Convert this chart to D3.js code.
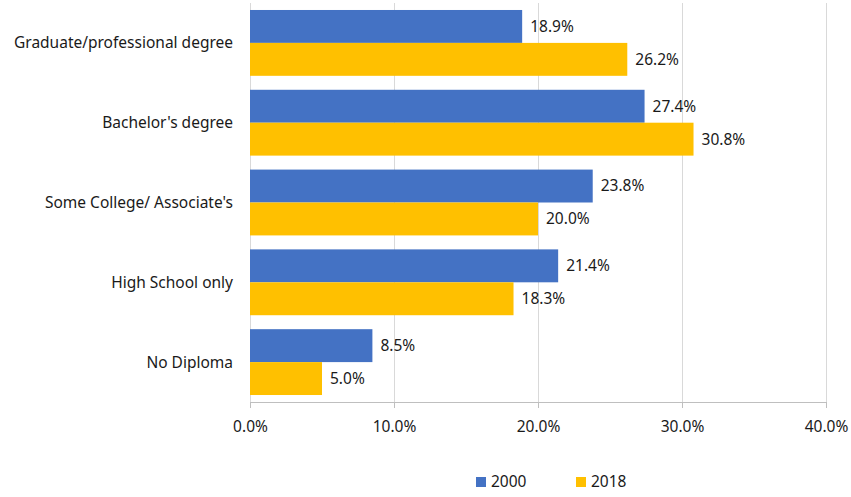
<!DOCTYPE html>
<html>
<head>
<meta charset="utf-8">
<script src="https://cdn.jsdelivr.net/npm/d3@7"></script>
<style>
  body { margin: 0; background: #fff; }
  text { font-family: "Noto Sans", "Open Sans", sans-serif; fill: #1a1a1a; }
</style>
</head>
<body>
<div id="chart"></div>
<script>
// Education attainment, 2000 vs 2018

var categories = ["Graduate/professional degree", "Bachelor's degree", "Some College/ Associate's", "High School only", "No Diploma"];
var years = ["2000", "2018"];
var values2000 = [18.9, 27.4, 23.8, 21.4, 8.5];
var values2018 = [26.2, 30.8, 20.0, 18.3, 5.0];
var xTicks = [0, 10, 20, 30, 40];

var colors = { "2000": "#4472C4", "2018": "#FFC000" };
var fontSize = "15.5px";

var width = 851, height = 497;
var margin = { top: 3, left: 250, right: 25, bottom: 95 };

var svg = d3.select("#chart").append("svg")
    .attr("width", width)
    .attr("height", height);

var x = d3.scaleLinear()
    .domain([0, 40])
    .range([margin.left, width - margin.right]);

var y = d3.scaleBand()
    .domain(categories)
    .range([margin.top, height - margin.bottom])
    .paddingInner(0.175)
    .paddingOuter(0.0875);

var ySub = d3.scaleBand()
    .domain(years)
    .range([0, y.bandwidth()]);

var rows = categories.map(function(c, i) {
    return { cat: c, vals: [
        { year: "2000", v: values2000[i] },
        { year: "2018", v: values2018[i] }
    ] };
});

// gridlines
svg.append("g")
    .selectAll("line")
    .data(xTicks)
    .enter().append("line")
    .attr("x1", function(d) { return x(d) + 0.5; })
    .attr("x2", function(d) { return x(d) + 0.5; })
    .attr("y1", margin.top)
    .attr("y2", height - margin.bottom)
    .attr("stroke", "#d9d9d9")
    .attr("stroke-width", 1);

// bars
var groups = svg.selectAll(".grp")
    .data(rows)
    .enter().append("g")
    .attr("class", "grp")
    .attr("transform", function(d) { return "translate(0," + y(d.cat) + ")"; });

groups.selectAll("rect")
    .data(function(d) { return d.vals; })
    .enter().append("rect")
    .attr("x", x(0))
    .attr("y", function(d) { return ySub(d.year); })
    .attr("width", function(d) { return x(d.v) - x(0); })
    .attr("height", ySub.bandwidth())
    .attr("fill", function(d) { return colors[d.year]; });

groups.selectAll(".val")
    .data(function(d) { return d.vals; })
    .enter().append("text")
    .attr("class", "val")
    .attr("x", function(d) { return x(d.v) + 8; })
    .attr("y", function(d) { return ySub(d.year) + ySub.bandwidth() / 2; })
    .attr("dy", "0.35em")
    .style("font-size", fontSize)
    .text(function(d) { return d.v.toFixed(1) + "%"; });

// x axis
var xAxis = d3.axisBottom(x)
    .tickValues(xTicks)
    .tickSize(6)
    .tickPadding(13)
    .tickFormat(function(d) { return d.toFixed(1) + "%"; });

var ax = svg.append("g")
    .attr("transform", "translate(0," + (height - margin.bottom) + ")")
    .call(xAxis);
ax.select(".domain").attr("stroke", "#bfbfbf").attr("d", "M" + x(0) + ",0.5H" + x(40));
ax.selectAll(".tick line").attr("stroke", "#bfbfbf");
ax.selectAll(".tick text").style("font-size", fontSize).style("font-family", "\"Noto Sans\", sans-serif").attr("fill", "#1a1a1a");

// category labels
svg.append("g")
    .selectAll("text")
    .data(categories)
    .enter().append("text")
    .attr("x", margin.left - 17)
    .attr("y", function(d) { return y(d) + y.bandwidth() / 2; })
    .attr("dy", "0.35em")
    .attr("text-anchor", "end")
    .style("font-size", fontSize)
    .text(function(d) { return d; });

// legend
var legend = svg.append("g")
    .selectAll("g")
    .data(years)
    .enter().append("g")
    .attr("transform", function(d, i) { return "translate(" + (476 + i * 100) + ",477)"; });

legend.append("rect")
    .attr("width", 10)
    .attr("height", 10)
    .attr("fill", function(d) { return colors[d]; });

legend.append("text")
    .attr("x", 15)
    .attr("y", 5)
    .attr("dy", "0.35em")
    .style("font-size", fontSize)
    .text(function(d) { return d; });
</script>
</body>
</html>
